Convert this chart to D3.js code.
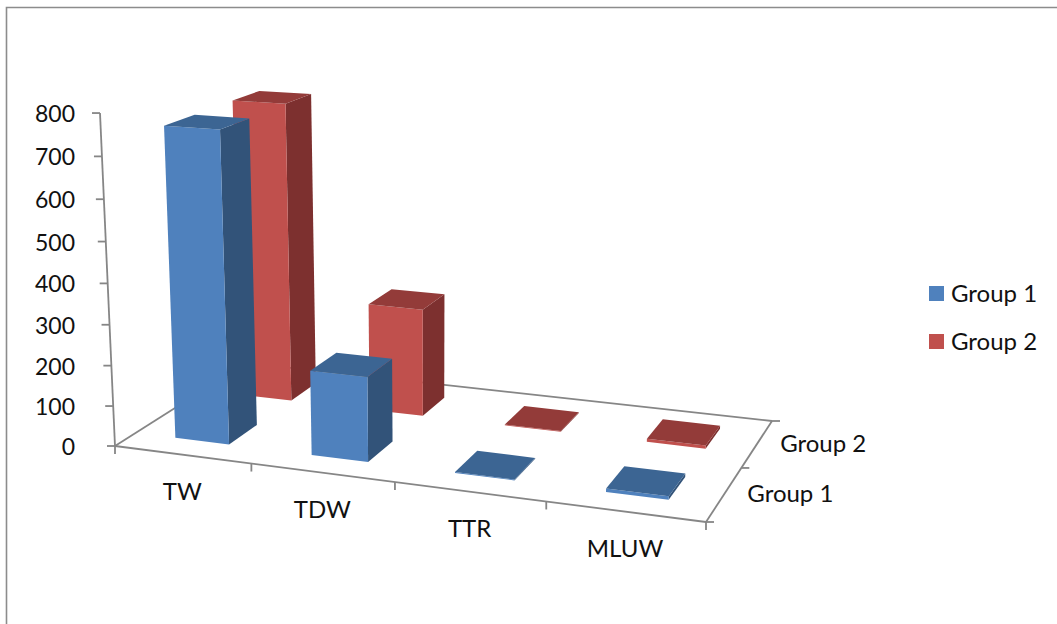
<!DOCTYPE html>
<html>
<head>
<meta charset="utf-8">
<script src="https://cdn.jsdelivr.net/npm/d3@7"></script>
<style>
  html, body { margin: 0; padding: 0; background: #fff; }
  text { font-family: Lato, "Noto Sans", sans-serif; fill: #111; }
</style>
</head>
<body>
<div id="chartArea"></div>
<script>
var categories = ['TW', 'TDW', 'TTR', 'MLUW'];
var groups = ['Group 1', 'Group 2'];
var group1Values = [760, 207, 2, 8];
var group2Values = [762, 274, 2, 8];
var yTicks = [0, 100, 200, 300, 400, 500, 600, 700, 800];
var frontColors = ['#4F81BD', '#C0504D'];
var topColors = ['#3C6593', '#933B39'];
var sideColors = ['#325379', '#7D302F'];

var width = 1057, height = 624;
var axisColor = '#868686';

// floor corners on screen, the plot is a perspective view of a unit box
var A = [115, 446], B = [706, 522], C = [772, 421], D = [246, 363];
var top0 = [100, 113], vanish = [430, 7438];

var dx1 = B[0] - C[0], dx2 = D[0] - C[0], sx = A[0] - B[0] + C[0] - D[0];
var dy1 = B[1] - C[1], dy2 = D[1] - C[1], sy = A[1] - B[1] + C[1] - D[1];
var det = dx1 * dy2 - dx2 * dy1;
var g = (sx * dy2 - dx2 * sy) / det;
var k = (dx1 * sy - sx * dy1) / det;
var a = B[0] - A[0] + g * B[0], b = D[0] - A[0] + k * D[0];
var d = B[1] - A[1] + g * B[1], e = D[1] - A[1] + k * D[1];
var t = (top0[0] - A[0]) / (vanish[0] - top0[0]);

function project(u, w, h) {
    var q = g * u + k * w + 1 + t * h;
    return [(a * u + b * w + A[0] + t * vanish[0] * h) / q,
            (d * u + e * w + A[1] + t * vanish[1] * h) / q];
}

var xscale = d3.scaleBand().domain(categories).range([0, 1]).paddingInner(0.6).paddingOuter(0.3);
var zscale = d3.scaleBand().domain(groups).range([0, 1]).paddingInner(0.57).paddingOuter(0.285);
var yscale = d3.scaleLinear().domain([0, 800]).range([0, 1]);
var xstep = d3.scaleBand().domain(categories).range([0, 1]);
var zstep = d3.scaleBand().domain(groups).range([0, 1]);

var svg = d3.select('#chartArea').append('svg')
    .attr('width', width)
    .attr('height', height)
    .style('display', 'block');

// picture frame, only top and left are visible
svg.append('path')
    .attr('d', 'M6.5,624V7.5H1057')
    .attr('fill', 'none')
    .attr('stroke', '#8c8c8c')
    .attr('stroke-width', 1.6);

var line = d3.line();
function seg(p, q) {
    svg.append('path').attr('d', line([p, q]))
        .attr('stroke', axisColor).attr('stroke-width', 1.8).attr('fill', 'none');
}

// floor and value axis
seg(project(0, 0, 0), project(1, 0, 0));
seg(project(1, 0, 0), project(1, 1, 0));
seg(project(1, 1, 0), project(0, 1, 0));
seg(project(0, 1, 0), project(0, 0, 0));
seg(project(0, 0, 0), project(0, 0, 1));

yTicks.forEach(function(v) {
    var p = project(0, 0, yscale(v));
    seg(p, [p[0] - 8, p[1]]);
    svg.append('text')
        .attr('x', 75)
        .attr('y', p[1] + 1)
        .attr('dy', '0.35em')
        .attr('text-anchor', 'end')
        .style('font-size', '23px')
        .text(v);
});

categories.concat([null]).forEach(function(c) {
    var u = c === null ? 1 : xstep(c);
    var p = project(u, 0, 0);
    seg(p, [p[0], p[1] + 8]);
});
categories.forEach(function(c) {
    var p = project(xstep(c) + xstep.bandwidth() / 2, 0, 0);
    svg.append('text')
        .attr('x', p[0])
        .attr('y', p[1] + 37)
        .attr('dy', '0.35em')
        .attr('text-anchor', 'middle')
        .style('font-size', '24px')
        .text(c);
});

groups.concat([null]).forEach(function(s) {
    var w = s === null ? 1 : zstep(s);
    var p = project(1, w, 0);
    seg(p, [p[0] + 8, p[1]]);
});
groups.forEach(function(s) {
    var p = project(1, zstep(s) + zstep.bandwidth() / 2, 0);
    svg.append('text')
        .attr('x', p[0] + 23)
        .attr('y', p[1])
        .attr('dy', '0.35em')
        .style('font-size', '24px')
        .text(s);
});

// back group first so the front bars cover it
var seriesValues = [group1Values, group2Values];
[1, 0].forEach(function(si) {
    var rows = categories.map(function(c, i) {
        return {category: c, value: seriesValues[si][i]};
    });
    var z0 = zscale(groups[si]), z1 = z0 + zscale.bandwidth();
    var bars = svg.append('g').selectAll('g').data(rows).enter().append('g');

    function corner(d, right, back, up) {
        return project(xscale(d.category) + (right ? xscale.bandwidth() : 0),
                       back ? z1 : z0,
                       up ? yscale(d.value) : 0);
    }
    bars.append('path')
        .attr('fill', sideColors[si])
        .attr('d', function(d) {
            return line([corner(d, 1, 0, 0), corner(d, 1, 1, 0), corner(d, 1, 1, 1), corner(d, 1, 0, 1)]) + 'Z';
        });
    bars.append('path')
        .attr('fill', frontColors[si])
        .attr('d', function(d) {
            return line([corner(d, 0, 0, 0), corner(d, 1, 0, 0), corner(d, 1, 0, 1), corner(d, 0, 0, 1)]) + 'Z';
        });
    bars.append('path')
        .attr('fill', topColors[si])
        .attr('d', function(d) {
            return line([corner(d, 0, 0, 1), corner(d, 1, 0, 1), corner(d, 1, 1, 1), corner(d, 0, 1, 1)]) + 'Z';
        });
});

// legend
var legend = svg.append('g').selectAll('g').data(groups).enter().append('g')
    .attr('transform', function(d, i) { return 'translate(929,' + (286 + i * 48) + ')'; });
legend.append('rect')
    .attr('width', 15)
    .attr('height', 15)
    .attr('fill', function(d, i) { return frontColors[i]; });
legend.append('text')
    .attr('x', 22)
    .attr('y', 7.5)
    .attr('dy', '0.35em')
    .style('font-size', '24px')
    .text(function(d) { return d; });
</script>
</body>
</html>
